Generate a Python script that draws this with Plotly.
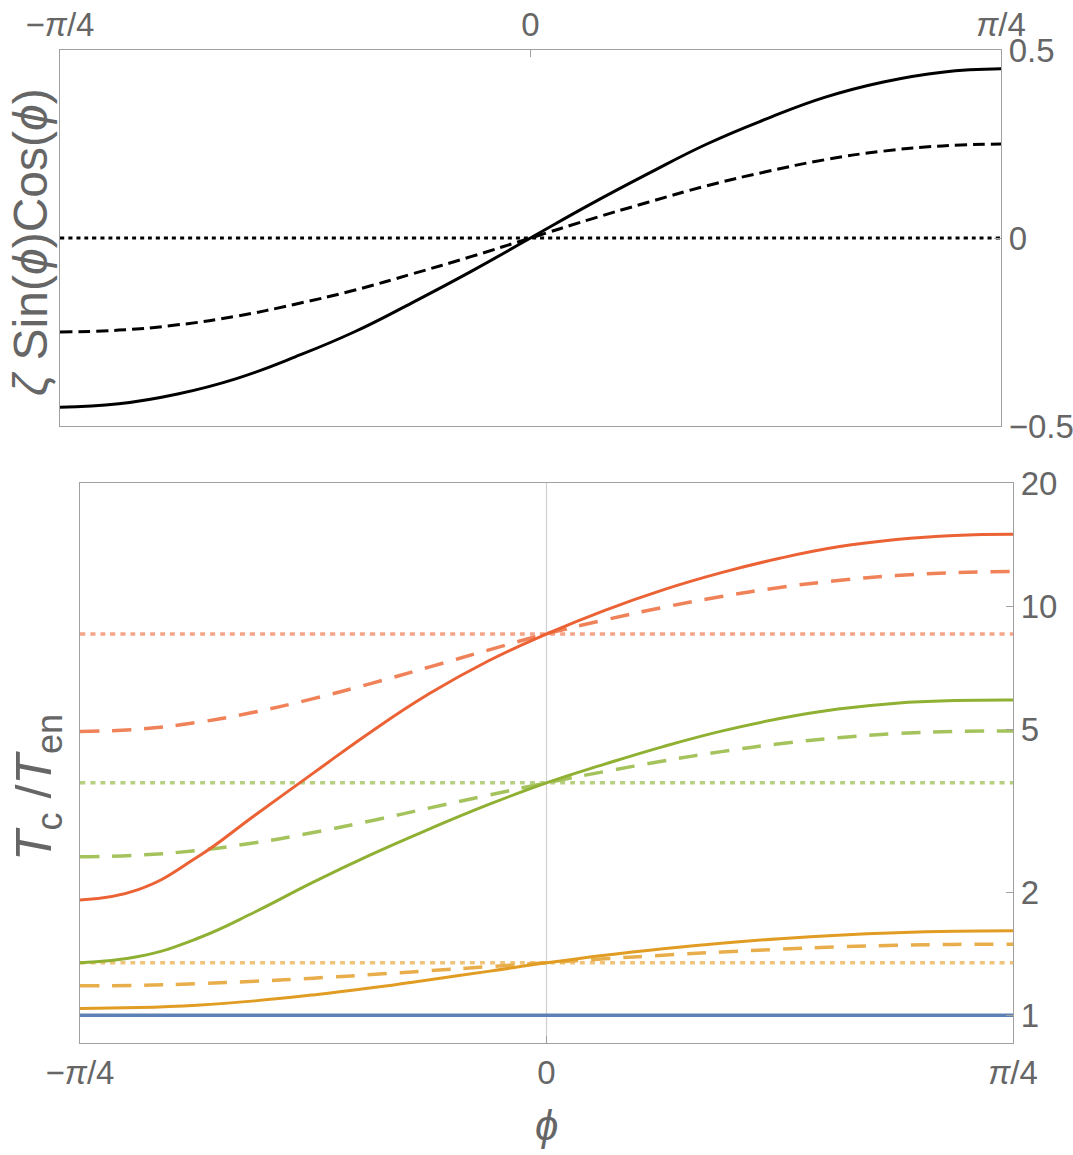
import numpy as np
import plotly.graph_objects as go

# phi sample points, in units of pi/32
phi_k = [-8, -7, -6, -5, -4, -3, -2, -1, 0, 1, 2, 3, 4, 5, 6, 7, 8]

# Top panel: zeta*Sin(phi)Cos(phi)
top_solid = [-0.45, -0.441, -0.415, -0.374, -0.316, -0.250, -0.171, -0.088, 0.0,
             0.088, 0.171, 0.250, 0.316, 0.374, 0.415, 0.441, 0.45]
top_dashed = [-0.25, -0.245, -0.231, -0.208, -0.176, -0.139, -0.095, -0.049, 0.0,
              0.049, 0.095, 0.139, 0.176, 0.208, 0.231, 0.245, 0.25]
top_dotted = [0.0] * 17

# Bottom panel: Tc/Ten
blue = [1.0] * 17
orange_solid = [1.040, 1.045, 1.059, 1.085, 1.122, 1.168, 1.222, 1.281, 1.344,
                1.403, 1.455, 1.501, 1.539, 1.570, 1.592, 1.605, 1.609]
orange_dashed = [1.181, 1.184, 1.195, 1.212, 1.233, 1.258, 1.286, 1.315, 1.345,
                 1.375, 1.403, 1.428, 1.451, 1.470, 1.484, 1.491, 1.493]
orange_dotted = [1.345] * 17
green_solid = [1.345, 1.392, 1.539, 1.789, 2.116, 2.474, 2.857, 3.272, 3.700,
               4.111, 4.538, 4.950, 5.313, 5.605, 5.795, 5.880, 5.899]
green_dashed = [2.440, 2.463, 2.529, 2.642, 2.798, 2.991, 3.214, 3.451, 3.700,
                3.944, 4.184, 4.411, 4.610, 4.770, 4.881, 4.940, 4.956]
green_dotted = [3.70] * 17
red_solid = [1.914, 2.030, 2.430, 3.085, 3.908, 4.943, 6.124, 7.345, 8.551,
             9.772, 10.965, 12.078, 13.092, 13.964, 14.555, 14.894, 14.997]
red_dashed = [4.940, 5.006, 5.197, 5.512, 5.943, 6.478, 7.107, 7.811, 8.556,
              9.254, 9.931, 10.56, 11.11, 11.55, 11.88, 12.08, 12.15]
red_dotted = [8.556] * 17

x_tickvals = [-np.pi / 4, 0, np.pi / 4]
x_ticktext = ["\u2212<i>\u03c0</i>/4", "0", "<i>\u03c0</i>/4"]
top_y_ticks = [-0.5, 0, 0.5]
top_y_text = ["\u22120.5", "0", "0.5"]
bot_y_ticks = [1, 2, 5, 10, 20]
bot_y_text = ["1", "2", "5", "10", "20"]

phi = [k * np.pi / 32 for k in phi_k]

W, H = 1073, 1155
FONT = "Liberation Sans, Arial, sans-serif"
TXT = "#666666"
FRAME = "#a0a0a0"

fig = go.Figure()

def add(x, y, color, width, dash, xa, ya):
    fig.add_trace(go.Scatter(x=x, y=y, mode="lines",
                             line=dict(color=color, width=width, dash=dash, shape="spline", smoothing=1.3),
                             xaxis=xa, yaxis=ya, showlegend=False, hoverinfo="skip"))

# top
add(phi, top_dotted, "black", 3, "4px,4px", "x", "y")
add(phi, top_dashed, "black", 3, "12px,6px", "x", "y")
add(phi, top_solid, "black", 3, "solid", "x", "y")

# bottom
add(phi, red_dotted, "#f5a487", 3.5, "5px,5px", "x2", "y2")
add(phi, green_dotted, "#b6cf80", 3.5, "5px,5px", "x2", "y2")
add(phi, orange_dotted, "#efc379", 3.5, "5px,5px", "x2", "y2")
add(phi, blue, "#5e81b5", 3.5, "solid", "x2", "y2")
add(phi, orange_dashed, "#e8ae4c", 3.5, "19px,13px", "x2", "y2")
add(phi, green_dashed, "#a5c35c", 3.5, "19px,13px", "x2", "y2")
add(phi, red_dashed, "#f08259", 3.5, "19px,13px", "x2", "y2")
add(phi, orange_solid, "#e19c24", 3, "solid", "x2", "y2")
add(phi, green_solid, "#8fb032", 3, "solid", "x2", "y2")
add(phi, red_solid, "#eb6235", 3, "solid", "x2", "y2")

tickfont = dict(family=FONT, size=33, color=TXT)

def px_x(a, b):
    return [a / W, b / W]

def px_y(top, bottom):
    return [(H - bottom) / H, (H - top) / H]

common_ax = dict(showgrid=False, zeroline=False, showline=True, linecolor=FRAME, linewidth=1.2,
                 mirror=True, ticks="inside", ticklen=7, tickcolor=FRAME, tickfont=tickfont,
                 automargin=False)

fig.update_layout(
    width=W, height=H, margin=dict(l=0, r=0, t=0, b=0, autoexpand=False),
    paper_bgcolor="white", plot_bgcolor="white",
    xaxis=dict(domain=px_x(60, 1001), range=[-np.pi / 4, np.pi / 4], side="top",
               tickvals=x_tickvals, ticktext=x_ticktext, anchor="y", **common_ax),
    yaxis=dict(domain=px_y(50, 426), range=[-0.5, 0.5], side="right",
               tickvals=top_y_ticks, ticktext=top_y_text, anchor="x", **common_ax),
    xaxis2=dict(domain=px_x(80, 1013), range=[-np.pi / 4, np.pi / 4], side="bottom",
                tickvals=x_tickvals, ticktext=x_ticktext, anchor="y2", **common_ax),
    yaxis2=dict(domain=px_y(483, 1043), type="log", range=[np.log10(0.856), np.log10(20)], side="right",
                tickvals=bot_y_ticks, ticktext=bot_y_text, anchor="x2", **common_ax),
)

# vertical axis line at phi = 0 in bottom panel
fig.add_shape(type="line", xref="x2", yref="y2 domain", x0=0, x1=0, y0=0, y1=1,
              line=dict(color="#d0d0d0", width=1.2), layer="below")

fig.add_annotation(text="<i>\u03b6</i> Sin(<i>\u03d5</i>)Cos(<i>\u03d5</i>)", textangle=-90,
                   xref="paper", yref="paper", x=30 / W, y=(H - 242) / H,
                   xanchor="center", yanchor="middle",
                   showarrow=False, font=dict(family=FONT, size=48, color=TXT))
fig.add_annotation(text="<i>T</i><sub><span style='font-size:36px'>c</span></sub> /<i>T</i><sub><span style='font-size:36px'>en</span></sub>",
                   textangle=-90,
                   xref="paper", yref="paper", x=38 / W, y=(H - 788) / H,
                   xanchor="center", yanchor="middle",
                   showarrow=False, font=dict(family=FONT, size=50, color=TXT))
fig.add_annotation(text="<i>\u03d5</i>", xref="paper", yref="paper", x=546 / W, y=(H - 1125) / H,
                   xanchor="center", yanchor="middle",
                   showarrow=False, font=dict(family=FONT, size=42, color=TXT))

fig.write_html("out.html")
